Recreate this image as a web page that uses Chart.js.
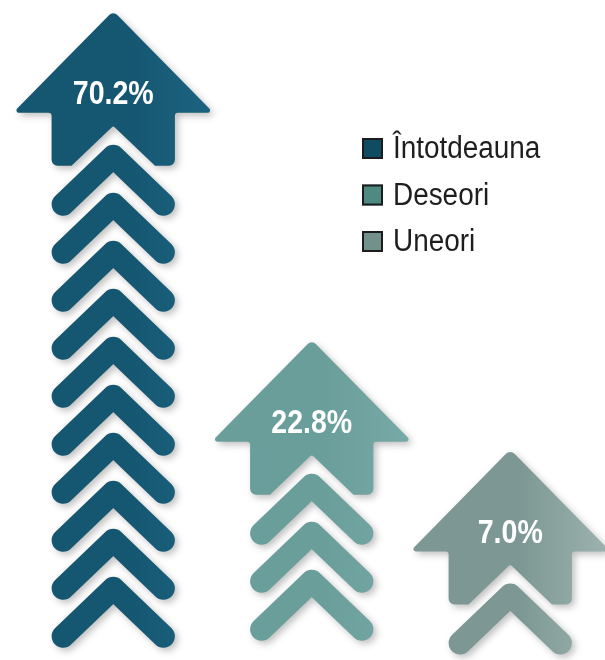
<!DOCTYPE html>
<html>
<head>
<meta charset="utf-8">
<script src="https://cdn.jsdelivr.net/npm/chart.js@4.4.1/dist/chart.umd.min.js"></script>
<style>
  html, body { margin: 0; padding: 0; background: #ffffff; overflow: hidden; width: 605px; height: 660px; }
  #wrap { position: absolute; left: 0; top: 0; width: 620px; height: 660px; }
</style>
</head>
<body>
<div id="wrap"><canvas id="c" width="620" height="660"></canvas></div>
<script>
// ---- data ----
const categories = ['Întotdeauna', 'Deseori', 'Uneori'];
const values = [70.2, 22.8, 7.0];
const valueLabels = ['70.2%', '22.8%', '7.0%'];
// ---- styles ----
const arrowColors = ['#155670', '#6a9e9b', '#7d9894'];
const arrowLight = ['#1c6380', '#78aaa7', '#9db3af'];
const legendColors = ['#0f4b62', '#4f8a82', '#72918a'];
const Y_MIN = -22.33;
const Y_MAX = 72.19;

function roundedPoly(ctx, pts, r) {
  const n = pts.length;
  ctx.beginPath();
  const mid = (a, b) => [(a[0] + b[0]) / 2, (a[1] + b[1]) / 2];
  const start = mid(pts[n - 1], pts[0]);
  ctx.moveTo(start[0], start[1]);
  for (let i = 0; i < n; i++) {
    const p = pts[i], q = pts[(i + 1) % n];
    const rr = Array.isArray(r) ? r[i] : r;
    ctx.arcTo(p[0], p[1], q[0], q[1], rr);
  }
  ctx.closePath();
}

function narrowText(ctx, text, x, y, sx) {
  ctx.save();
  ctx.translate(x, y);
  ctx.scale(sx, 1);
  ctx.fillText(text, 0, 0);
  ctx.restore();
}

const arrowPlugin = {
  id: 'arrows',
  afterDatasetsDraw(chart) {
    const ctx = chart.ctx;
    const meta = chart.getDatasetMeta(0);
    meta.data.forEach((el, i) => {
      const cx = el.x, A = el.y, base = el.base;
      const s = el.width / 198;
      const hh = 100 * s, sh = 61.5 * s;
      const grad = ctx.createLinearGradient(cx - hh, 0, cx + hh, 0);
      grad.addColorStop(0, arrowColors[i]);
      grad.addColorStop(0.55, arrowColors[i]);
      grad.addColorStop(1, arrowLight[i]);
      ctx.save();
      ctx.shadowColor = 'rgba(0,0,0,0.25)';
      ctx.shadowBlur = 7;
      ctx.shadowOffsetX = 3;
      ctx.shadowOffsetY = 3;
      ctx.fillStyle = grad;
      // head
      const nd = 41.7 * s;
      const pts = [
        [cx, A - 3],
        [cx + hh, A + 99],
        [cx + sh, A + 99],
        [cx + sh, A + 152],
        [cx + nd, A + 152],
        [cx, A + 112],
        [cx - nd, A + 152],
        [cx - sh, A + 152],
        [cx - sh, A + 99],
        [cx - hh, A + 99]
      ];
      roundedPoly(ctx, pts, [6, 2.5, 3, 6, 2, 2, 2, 6, 3, 2.5]);
      ctx.fill();
      // chevrons
      const t = 23;
      ctx.strokeStyle = grad;
      ctx.lineWidth = t;
      ctx.lineJoin = 'round';
      ctx.lineCap = 'round';
      for (let top = A + 131; top + 71 <= base + 1; top += 48) {
        const ay = top + t / 2;
        ctx.beginPath();
        ctx.moveTo(cx - 50 * s, ay + 48);
        ctx.lineTo(cx, ay);
        ctx.lineTo(cx + 50 * s, ay + 48);
        ctx.stroke();
      }
      ctx.restore();
      // label
      ctx.save();
      ctx.fillStyle = '#ffffff';
      ctx.font = 'bold 34px "Liberation Sans", sans-serif';
      ctx.textAlign = 'center';
      ctx.textBaseline = 'middle';
      narrowText(ctx, valueLabels[i], cx, A + 81, 0.84);
      ctx.restore();
    });
  },
  afterDraw(chart) {
    const ctx = chart.ctx;
    const x0 = 362, y0 = 148.5, step = 46.5, box = 21;
    ctx.save();
    chart.data.labels.forEach((lab, i) => {
      const cy = y0 + i * step;
      ctx.fillStyle = legendColors[i];
      ctx.fillRect(x0, cy - box / 2, box, box);
      ctx.strokeStyle = '#1c1c1c';
      ctx.lineWidth = 2;
      ctx.strokeRect(x0 + 1, cy - box / 2 + 1, box - 2, box - 2);
      ctx.fillStyle = '#1e1e1e';
      ctx.font = '31px "Liberation Sans", sans-serif';
      ctx.textAlign = 'left';
      ctx.textBaseline = 'middle';
      narrowText(ctx, lab, x0 + 31, cy + 1, 0.9);
    });
    ctx.restore();
  }
};

new Chart(document.getElementById('c'), {
  type: 'bar',
  data: {
    labels: categories,
    datasets: [{
      label: 'Procent',
      data: values,
      base: Y_MIN,
      backgroundColor: 'rgba(0,0,0,0)',
      borderWidth: 0,
      barPercentage: 1,
      categoryPercentage: 1
    }]
  },
  options: {
    responsive: false,
    animation: false,
    layout: { padding: { left: 14, right: 10.5, top: 0, bottom: 4 } },
    scales: {
      x: { display: false, offset: true },
      y: { display: false, min: Y_MIN, max: Y_MAX }
    },
    plugins: {
      legend: { display: false },
      tooltip: { enabled: false }
    }
  },
  plugins: [arrowPlugin]
});
</script>
</body>
</html>
